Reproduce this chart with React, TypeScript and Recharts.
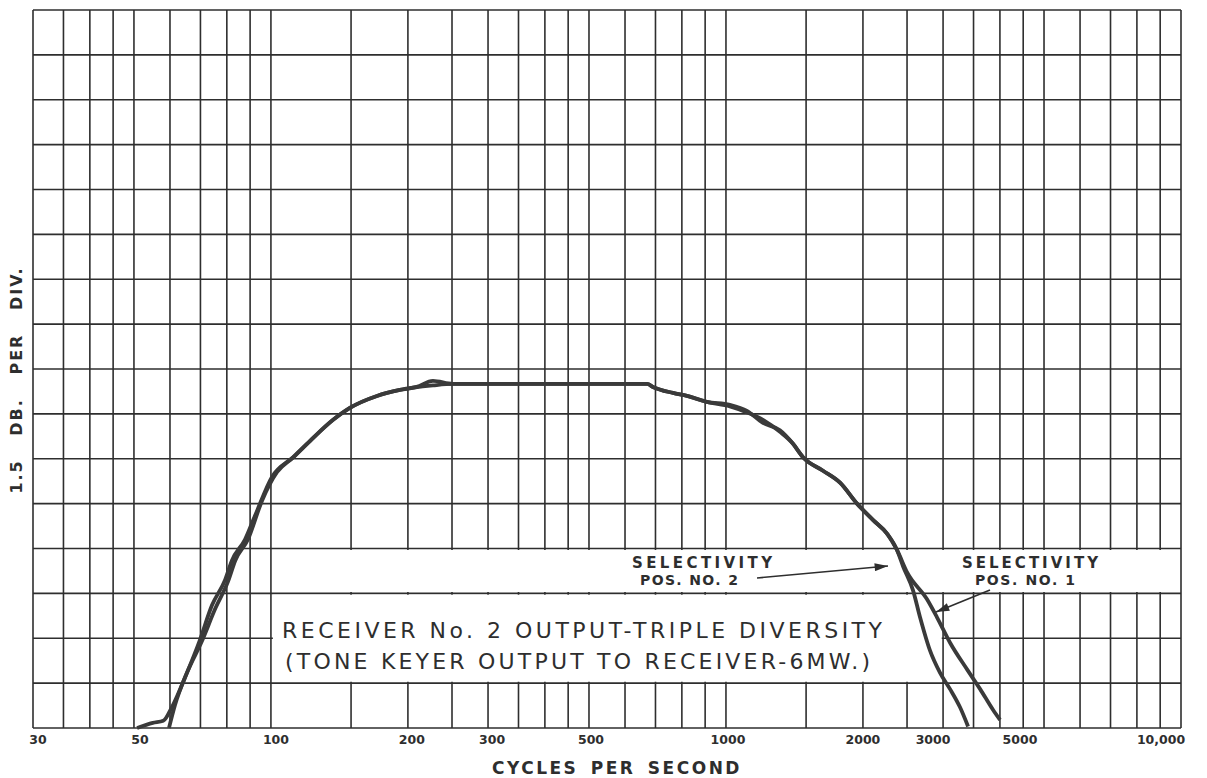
import { Line, LineChart, ReferenceArea, ReferenceLine, XAxis, YAxis } from "recharts";

// frequency grid (log paper) and level grid (1.5 dB per division)
const gridFreqs = [
  30, 35, 40, 45, 50, 60, 70, 80, 90, 100, 150, 200, 250, 300, 350, 400, 450, 500, 600, 700, 800, 900,
  1000, 1500, 2000, 2500, 3000, 3500, 4000, 4500, 5000, 6000, 7000, 8000, 9000, 10000,
];
const gridLevels = [0, 1.5, 3, 4.5, 6, 7.5, 9, 10.5, 12, 13.5, 15, 16.5, 18, 19.5, 21, 22.5, 24];

const tickFreqs = [30, 50, 100, 200, 300, 500, 1000, 2000, 3000, 5000, 10000];
const tickLabels = ["30", "50", "100", "200", "300", "500", "1000", "2000", "3000", "5000", "10,000"];
// hand lettered labels sit a little off their lines
const tickShift = [5, 6, 5, 4, 4, 2, 2, 0, -10, -24, -20];

// selectivity position 1 (wide)
const pos1Freq = [
  50.8, 55, 58, 60.6, 65.4, 69.8, 74.2, 79.3, 82.1, 87.7, 92.3, 100.6, 111.8, 121.9, 136.9, 149.2, 171, 192,
  209, 227, 251, 671, 691, 765, 821, 908, 1020, 1112, 1206, 1314, 1404, 1477, 1634, 1781, 1941, 2106, 2259,
  2376, 2501, 2766, 2909, 3108, 3390, 3619, 3865, 4002,
];
const pos1Db = [
  0, 0.17, 0.24, 0.7, 1.85, 2.94, 4.1, 4.95, 5.6, 6.3, 7.1, 8.4, 9.05, 9.6, 10.3, 10.7, 11.1, 11.3, 11.4,
  11.6, 11.5, 11.5, 11.4, 11.2, 11.1, 10.9, 10.75, 10.55, 10.3, 9.9, 9.5, 9.05, 8.6, 8.2, 7.5, 6.95, 6.5,
  5.95, 5.2, 4.3, 3.7, 2.85, 1.95, 1.3, 0.6, 0.27,
];

// selectivity position 2 (narrow)
const pos2Freq = [
  59.7, 61.5, 65.4, 70.5, 75.5, 80.5, 83.5, 89, 95.6, 103.1, 112, 122, 137, 149, 171, 192, 227, 251, 671,
  691, 765, 821, 908, 1020, 1112, 1206, 1314, 1404, 1477, 1634, 1781, 1941, 2106, 2259, 2376, 2451, 2577,
  2670, 2806, 2953, 3108, 3267, 3405,
];
const pos2Db = [
  0, 0.75, 1.85, 2.9, 4.0, 4.9, 5.6, 6.3, 7.6, 8.55, 9.05, 9.6, 10.3, 10.7, 11.1, 11.3, 11.45, 11.5, 11.5,
  11.4, 11.2, 11.1, 10.9, 10.8, 10.6, 10.2, 9.95, 9.5, 9.05, 8.6, 8.2, 7.5, 6.95, 6.5, 5.95, 5.4, 4.6, 3.7,
  2.6, 1.85, 1.3, 0.7, 0.05,
];

const pos1 = pos1Freq.map((f, i) => ({ f, db: pos1Db[i] }));
const pos2 = pos2Freq.map((f, i) => ({ f, db: pos2Db[i] }));

const ink = "#2e2e2e";
const letterFont = "'DejaVu Sans', sans-serif";

function FreqTick({ x, y, payload }: any) {
  const idx = tickFreqs.indexOf(payload.value);
  return (
    <text
      x={x + (tickShift[idx] || 0)}
      y={y}
      dy={8}
      textAnchor="middle"
      fontFamily={letterFont}
      fontSize={12.5}
      fontWeight="bold"
      fill={ink}
    >
      {tickLabels[idx]}
    </text>
  );
}

export default function App() {
  return (
    <div style={{ position: "relative", width: 1207, height: 778, background: "#fff" }}>
      <style>{"body{margin:0;background:#fff}"}</style>
      <LineChart width={1207} height={778} margin={{ top: 10, right: 26, bottom: 20, left: 33 }}>
        <XAxis
          dataKey="f"
          type="number"
          scale="log"
          domain={[30, 10000]}
          ticks={tickFreqs}
          allowDataOverflow
          axisLine={false}
          tickLine={false}
          height={30}
          tick={<FreqTick />}
          interval={0}
        />
        <YAxis type="number" domain={[0, 24]} hide />
        {gridFreqs.map((f) => (
          <ReferenceLine key={`v${f}`} x={f} stroke={ink} strokeWidth={1.6} zIndex={0} />
        ))}
        {gridLevels.map((l) => (
          <ReferenceLine key={`h${l}`} y={l} stroke={ink} strokeWidth={1.6} zIndex={0} />
        ))}
        <ReferenceArea x1={101} x2={9900} y1={4.55} y2={5.95} fill="#fff" fillOpacity={1} stroke="none" zIndex={50} />
        <ReferenceArea x1={101} x2={2980} y1={1.55} y2={4.45} fill="#fff" fillOpacity={1} stroke="none" zIndex={50} />
        <Line
          data={pos1}
          dataKey="db"
          type="monotone"
          stroke="#3a3a3a"
          strokeWidth={3.8}
          dot={false}
          isAnimationActive={false}
          zIndex={400}
        />
        <Line
          data={pos2}
          dataKey="db"
          type="monotone"
          stroke="#3a3a3a"
          strokeWidth={3.8}
          dot={false}
          isAnimationActive={false}
          zIndex={400}
        />
      </LineChart>
      <svg
        width={1207}
        height={778}
        style={{ position: "absolute", left: 0, top: 0, pointerEvents: "none" }}
        fontFamily={letterFont}
        fill={ink}
      >
        <defs>
          <marker id="arrowHead" viewBox="0 0 10 6" refX="10" refY="3" markerWidth="18" markerHeight="8" orient="auto" markerUnits="userSpaceOnUse">
            <path d="M0,0 L10,3 L0,6 z" fill={ink} />
          </marker>
        </defs>
        <text
          transform="translate(22,380) rotate(-90)"
          textAnchor="middle"
          fontSize={16}
          fontWeight="bold"
          letterSpacing={2}
          wordSpacing={16}
        >
          1.5 DB. PER DIV.
        </text>
        <text x={617} y={774} textAnchor="middle" fontSize={17} fontWeight="bold" letterSpacing={2.5} wordSpacing={4}>
          CYCLES PER SECOND
        </text>
        <text x={282} y={638} fontSize={22} textLength={600} lengthAdjust="spacing">
          RECEIVER No. 2 OUTPUT-TRIPLE DIVERSITY
        </text>
        <text x={285} y={669} fontSize={22} textLength={585} lengthAdjust="spacing">
          (TONE KEYER OUTPUT TO RECEIVER-6MW.)
        </text>
        <text x={632} y={568} fontSize={15} fontWeight="bold" textLength={140} lengthAdjust="spacing">
          SELECTIVITY
        </text>
        <text x={640} y={585} fontSize={14} fontWeight="bold" textLength={98} lengthAdjust="spacing">
          POS. NO. 2
        </text>
        <text x={962} y={568} fontSize={15} fontWeight="bold" textLength={136} lengthAdjust="spacing">
          SELECTIVITY
        </text>
        <text x={975} y={585} fontSize={14} fontWeight="bold" textLength={100} lengthAdjust="spacing">
          POS. NO. 1
        </text>
        <line x1={757} y1={578} x2={888} y2={566} stroke={ink} strokeWidth={1.6} markerEnd="url(#arrowHead)" />
        <line x1={990} y1={590} x2={936} y2={612} stroke={ink} strokeWidth={1.6} markerEnd="url(#arrowHead)" />
      </svg>
    </div>
  );
}
